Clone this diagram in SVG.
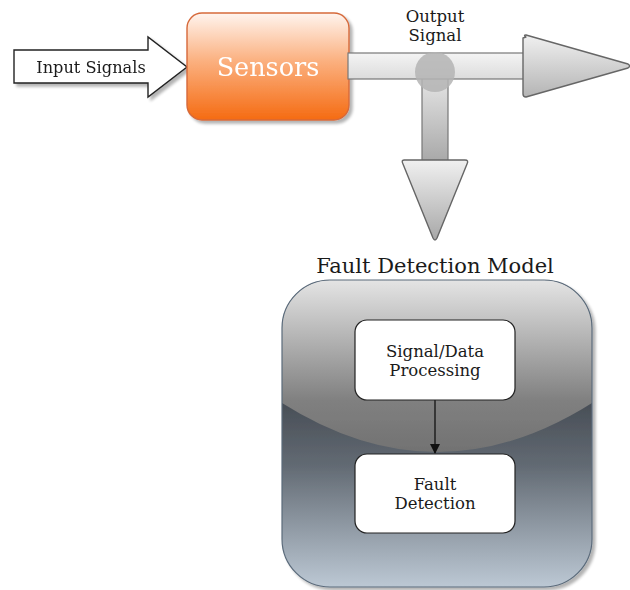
<svg xmlns="http://www.w3.org/2000/svg" width="630" height="590" viewBox="0 0 630 590">
  <defs>
    <linearGradient id="gSensor" x1="0" y1="0" x2="0" y2="1">
      <stop offset="0" stop-color="#fff4ee"/>
      <stop offset="0.45" stop-color="#fbb07f"/>
      <stop offset="1" stop-color="#f56b12"/>
    </linearGradient>
    <linearGradient id="gPipeH" x1="0" y1="0" x2="0" y2="1">
      <stop offset="0" stop-color="#f4f4f4"/>
      <stop offset="1" stop-color="#dcdcdc"/>
    </linearGradient>
    <linearGradient id="gPipeV" x1="0" y1="0" x2="0" y2="1">
      <stop offset="0" stop-color="#e6e6e6"/>
      <stop offset="1" stop-color="#a8a8a8"/>
    </linearGradient>
    <linearGradient id="gHeadR" x1="0" y1="0" x2="0" y2="1">
      <stop offset="0" stop-color="#f0f0f0"/>
      <stop offset="1" stop-color="#b4b4b4"/>
    </linearGradient>
    <linearGradient id="gHeadD" x1="0" y1="0" x2="0" y2="1">
      <stop offset="0" stop-color="#f0f0f0"/>
      <stop offset="1" stop-color="#a8a8a8"/>
    </linearGradient>
    <linearGradient id="gPanelTop" x1="0" y1="280" x2="0" y2="452" gradientUnits="userSpaceOnUse">
      <stop offset="0" stop-color="#e4e4e4"/>
      <stop offset="0.7" stop-color="#808080"/>
      <stop offset="1" stop-color="#727272"/>
    </linearGradient>
    <linearGradient id="gPanelBot" x1="0" y1="400" x2="0" y2="587" gradientUnits="userSpaceOnUse">
      <stop offset="0" stop-color="#474d55"/>
      <stop offset="0.35" stop-color="#626a73"/>
      <stop offset="1" stop-color="#bcc8d4"/>
    </linearGradient>
    <clipPath id="panelClip">
      <rect x="282" y="280" width="310" height="307" rx="48" ry="48"/>
    </clipPath>
    <marker id="arrow" viewBox="0 0 10 10" refX="9" refY="5" markerWidth="11" markerHeight="10" orient="auto" markerUnits="userSpaceOnUse">
      <path d="M0,0 L10,5 L0,10 z" fill="#111"/>
    </marker>
    <filter id="shadow" x="-10%" y="-10%" width="130%" height="130%">
      <feGaussianBlur in="SourceAlpha" stdDeviation="1.5"/>
      <feOffset dx="3" dy="3" result="b"/>
      <feComponentTransfer><feFuncA type="linear" slope="0.3"/></feComponentTransfer>
      <feMerge><feMergeNode/><feMergeNode in="SourceGraphic"/></feMerge>
    </filter>
  </defs>
  <style>
    .serif { font-family: "DejaVu Serif", "Liberation Serif", serif; }
    .lbl { font-size: 16.5px; fill: #1a1a1a; text-anchor: middle; }
    .box { fill: #ffffff; stroke: #222; stroke-width: 1.2; }
    .pipe { stroke: #777; stroke-width: 1.2; }
  </style>

  <rect width="630" height="590" fill="#ffffff"/>

  <!-- fault detection model panel -->
  <g id="fault-detection-model">
    <text class="serif" x="435" y="273" font-size="21" fill="#1a1a1a" text-anchor="middle">Fault Detection Model</text>
    <g filter="url(#shadow)">
      <g clip-path="url(#panelClip)">
        <rect x="282" y="280" width="310" height="307" fill="url(#gPanelBot)"/>
        <path d="M282,280 L592,280 L592,403 Q437,501 282,403 Z" fill="url(#gPanelTop)"/>
      </g>
      <rect x="282" y="280" width="310" height="307" rx="48" ry="48" fill="none" stroke="#5b6b7b" stroke-width="1.2"/>
    </g>
  </g>

  <!-- input arrow -->
  <g id="input-signals" filter="url(#shadow)">
    <path d="M14,50 L148,50 L148,37 L187,67 L148,97 L148,83 L14,83 Z" fill="#ffffff" stroke="#222" stroke-width="1.4" stroke-linejoin="miter"/>
    <text class="serif" x="91" y="73" font-size="16.2" fill="#1a1a1a" text-anchor="middle">Input Signals</text>
  </g>

  <!-- sensors block -->
  <g id="sensors" filter="url(#shadow)">
    <rect x="187" y="13" width="162" height="107" rx="15" ry="15" fill="url(#gSensor)" stroke="#d6693a" stroke-width="1.4"/>
    <text class="serif" x="268" y="76" font-size="25.5" fill="#ffffff" text-anchor="middle">Sensors</text>
  </g>

  <!-- output pipes, splitter and flow arrow -->
  <g id="connectors">
    <rect class="pipe" x="422" y="76" width="26" height="86" fill="url(#gPipeV)"/>
    <rect class="pipe" x="348" y="53" width="178" height="26" fill="url(#gPipeH)"/>
    <circle cx="435" cy="72" r="20" fill="#b4b4b4" fill-opacity="0.85"/>
    <path d="M526,37 Q523,35 526,35 L628,64 Q631,66 628,68 L526,97 Q523,97 523,94 L523,38 Z" fill="url(#gHeadR)" stroke="#666" stroke-width="1.4" stroke-linejoin="round"/>
    <path d="M404,160 L465,160 Q469,160 467,164 L437,238 Q435,242 433,238 L403,164 Q401,160 404,160 Z" fill="url(#gHeadD)" stroke="#666" stroke-width="1.4" stroke-linejoin="round"/>
    <line x1="435" y1="400" x2="435" y2="453" stroke="#111" stroke-width="1.3" marker-end="url(#arrow)"/>
  </g>

  <g id="output-signal">
    <text class="serif lbl" x="435" y="22" font-size="16">Output</text>
    <text class="serif lbl" x="435" y="41" font-size="16">Signal</text>
  </g>

  <g id="signal-data-processing">
    <rect class="box" x="355" y="320" width="160" height="80" rx="12" ry="12"/>
    <text class="serif lbl" x="435" y="357">Signal/Data</text>
    <text class="serif lbl" x="435" y="376">Processing</text>
  </g>

  <g id="fault-detection">
    <rect class="box" x="355" y="454" width="160" height="79" rx="12" ry="12"/>
    <text class="serif lbl" x="435" y="490">Fault</text>
    <text class="serif lbl" x="435" y="509">Detection</text>
  </g>
</svg>
